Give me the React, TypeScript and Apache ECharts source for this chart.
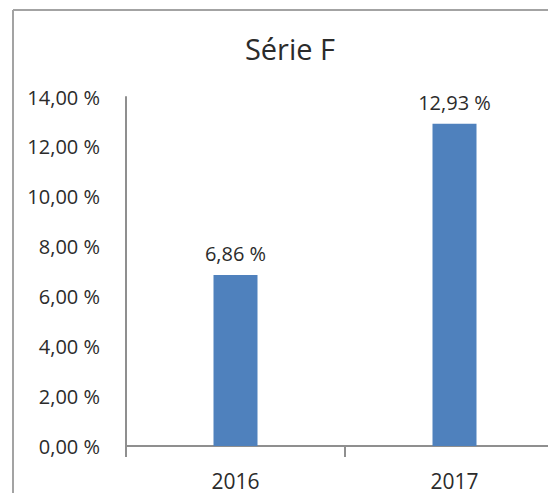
import React, { useEffect, useRef } from "react";
import * as echarts from "echarts";

const categories = ["2016", "2017"];
const values = [6.86, 12.93];
const title = "Série F";

const fmt = (v: number) => v.toFixed(2).replace(".", ",") + " %";

export default function App() {
  const ref = useRef<HTMLDivElement>(null);
  useEffect(() => {
    const chart = echarts.init(ref.current!, null, { renderer: "svg" });
    const font = "'Open Sans', Lato, sans-serif";
    const txt = "#2b2b2b";
    const axisCol = "#8f8f8f";
    chart.setOption({
      animation: false,
      backgroundColor: "#ffffff",
      textStyle: { fontFamily: font },
      title: {
        text: title,
        left: 285,
        top: 29,
        textAlign: "center",
        textStyle: { fontFamily: font, fontSize: 29, fontWeight: "normal", color: txt },
      },
      graphic: [
        {
          type: "line",
          shape: { x1: 13, y1: 10, x2: 13, y2: 530 },
          style: { stroke: "#a3a3a3", lineWidth: 2 },
          silent: true,
        },
        {
          type: "line",
          shape: { x1: 13, y1: 10, x2: 600, y2: 10 },
          style: { stroke: "#a3a3a3", lineWidth: 2 },
          silent: true,
        },
      ],
      grid: { left: 126, top: 97, width: 438, height: 349, outerBoundsMode: "none", containLabel: false },
      xAxis: {
        type: "category",
        data: categories,
        axisLine: { lineStyle: { color: axisCol, width: 2 } },
        axisTick: { show: true, length: 11, alignWithLabel: false, lineStyle: { color: axisCol, width: 2 } },
        axisLabel: { fontFamily: font, fontSize: 21, color: txt, margin: 24 },
      },
      yAxis: {
        type: "value",
        min: 0,
        max: 14,
        interval: 2,
        splitLine: { show: false },
        axisLine: { show: true, lineStyle: { color: axisCol, width: 2 } },
        axisTick: { show: false },
        axisLabel: { fontFamily: font, fontSize: 20, color: txt, margin: 26, formatter: (v: number) => fmt(v) },
      },
      series: [
        {
          type: "bar",
          data: values,
          barWidth: 44,
          itemStyle: { color: "#4f81bd" },
          label: {
            show: true,
            position: "top",
            distance: 11,
            fontFamily: font,
            fontSize: 20,
            color: txt,
            formatter: (p: any) => fmt(p.value),
          },
        },
      ],
    });
    return () => chart.dispose();
  }, []);
  return (
    <div
      ref={ref}
      style={{ position: "fixed", left: 0, top: 0, width: 600, height: 530, background: "#fff" }}
    />
  );
}
